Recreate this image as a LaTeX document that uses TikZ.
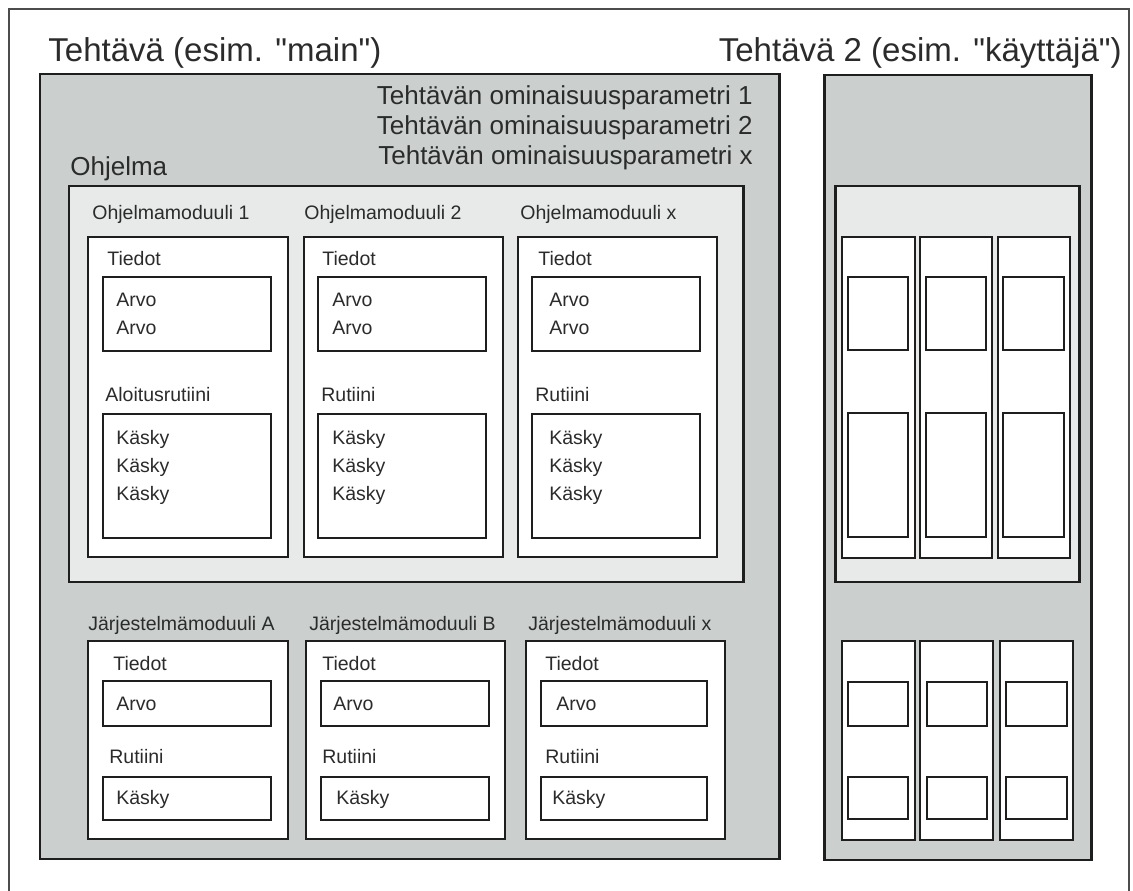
\documentclass[tikz,border=0pt]{standalone}
\usepackage{fontspec}
\setmainfont{Liberation Sans}[Ligatures=TeXOff]
\definecolor{taskgray}{HTML}{CBD0CF}
\definecolor{proggray}{HTML}{E7EAE9}
\definecolor{txt}{HTML}{2B2B2B}
\definecolor{edge}{HTML}{1E1E1E}
\newcommand{\dq}{\symbol{34}}
\begin{document}
\begin{tikzpicture}[x=0.02cm,y=-0.02cm,
  frame/.style={draw=black!70, line width=1.1pt},
  taskbox/.style={draw=edge, line width=1.7pt, fill=taskgray},
  progbox/.style={draw=edge, line width=1.7pt, fill=proggray},
  modbox/.style={draw=edge, line width=1.6pt, fill=white},
  big/.style={font=\fontsize{18.8}{22}\selectfont, text=txt, inner sep=0pt},
  mid/.style={font=\fontsize{14.8}{18}\selectfont, text=txt, inner sep=0pt},
  small/.style={font=\fontsize{11.1}{13}\selectfont, text=txt, inner sep=0pt},
]
\useasboundingbox[fill=white] (0,0) rectangle (1133,891);
% outer frame (open at bottom)
\draw[frame] (9,891) -- (9,9) -- (1129,9) -- (1129,891);

% titles
\node[big, anchor=base west] (t1) at (48,62) {Tehtävä (esim. \dq main\dq)};
\node[big, anchor=base east] (t2) at (1122,62) {Tehtävä 2 (esim. \dq käyttäjä\dq)};

% ---------- Task 1 ----------
\draw[taskbox] (40,74) rectangle (779,859);
\node[mid, anchor=base east] (p1) at (753,105) {Tehtävän ominaisuusparametri 1};
\node[mid, anchor=base east] (p2) at (753,135) {Tehtävän ominaisuusparametri 2};
\node[mid, anchor=base east] (p3) at (753,165) {Tehtävän ominaisuusparametri x};
\node[mid, anchor=base west] (ohj) at (70,176) {Ohjelma};
\draw[progbox] (69,186) rectangle (743,582);

% program modules
\foreach \bl/\br/\il/\ir/\lx/\tx/\ax/\rx/\lab/\rut [count=\n] in {
  88/288/103/271/92/107/116/105/{Ohjelmamoduuli 1}/{Aloitusrutiini},
  304/503/318/486/304/322/332/321/{Ohjelmamoduuli 2}/{Rutiini},
  518/717/532/700/520/538/549/535/{Ohjelmamoduuli x}/{Rutiini}}{
  \draw[modbox] (\bl,237) rectangle (\br,557);
  \draw[modbox] (\il,277) rectangle (\ir,351);
  \draw[modbox] (\il,414) rectangle (\ir,538);
  \node[small, anchor=base west] (ml\n) at (\lx,220) {\lab};
  \node[small, anchor=base west] (mt\n) at (\tx,266) {Tiedot};
  \node[small, anchor=base west] (ma\n a) at (\ax,307) {Arvo};
  \node[small, anchor=base west] (ma\n b) at (\ax,335) {Arvo};
  \node[small, anchor=base west] (mr\n) at (\rx,402) {\rut};
  \node[small, anchor=base west] (mk\n a) at (\ax,445) {Käsky};
  \node[small, anchor=base west] (mk\n b) at (\ax,473) {Käsky};
  \node[small, anchor=base west] (mk\n c) at (\ax,501) {Käsky};
}

% system modules
\foreach \bl/\br/\il/\ir/\lx/\tx/\ax/\rx/\kx/\lab [count=\n] in {
  88/288/103/271/88/113/116/109/116/{Järjestelmämoduuli A},
  306/505/321/489/309/322/333/322/336/{Järjestelmämoduuli B},
  526/725/541/707/528/545/556/545/552/{Järjestelmämoduuli x}}{
  \draw[modbox] (\bl,641) rectangle (\br,839);
  \draw[modbox] (\il,681) rectangle (\ir,726);
  \draw[modbox] (\il,777) rectangle (\ir,820);
  \node[small, anchor=base west] (sl\n) at (\lx,631) {\lab};
  \node[small, anchor=base west] (st\n) at (\tx,671) {Tiedot};
  \node[small, anchor=base west] (sa\n) at (\ax,710) {Arvo};
  \node[small, anchor=base west] (sr\n) at (\rx,763) {Rutiini};
  \node[small, anchor=base west] (sk\n) at (\kx,804) {Käsky};
}

% ---------- Task 2 ----------
\draw[taskbox] (824,75) rectangle (1091,860);
\draw[progbox] (835,186) rectangle (1079,582);
\foreach \bl/\br/\il/\ir in {842/915/848/908, 920/992/926/986, 998/1070/1003/1064}{
  \draw[modbox] (\bl,237) rectangle (\br,558);
  \draw[modbox] (\il,277) rectangle (\ir,350);
  \draw[modbox] (\il,413) rectangle (\ir,537);
}
\foreach \bl/\br/\il/\ir in {842/915/848/908, 920/993/927/987, 1000/1073/1006/1067}{
  \draw[modbox] (\bl,641) rectangle (\br,840);
  \draw[modbox] (\il,682) rectangle (\ir,726);
  \draw[modbox] (\il,777) rectangle (\ir,819);
}
\end{tikzpicture}
\end{document}
